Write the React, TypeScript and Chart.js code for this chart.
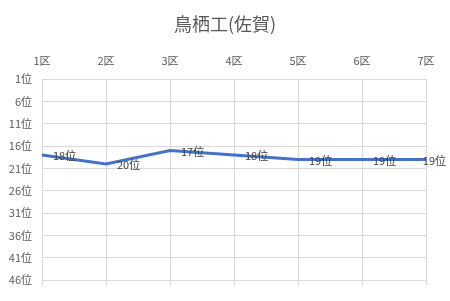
import React, { useEffect, useRef } from "react";
import { Chart, registerables } from "chart.js";

Chart.register(...registerables);

const titleText = "鳥栖工(佐賀)";
const categories = ["1区", "2区", "3区", "4区", "5区", "6区", "7区"];
const ranks = [18, 20, 17, 18, 19, 19, 19];
const rankTicks = [1, 6, 11, 16, 21, 26, 31, 36, 41, 46];

const FONT = "'Noto Sans CJK JP', 'Noto Sans', sans-serif";
const GRID = "#d9d9d9";

const titlePlugin = {
  id: "centeredTitle",
  afterDraw(chart: any) {
    const ctx = chart.ctx;
    ctx.save();
    ctx.font = `18px ${FONT}`;
    ctx.fillStyle = "#595959";
    ctx.textAlign = "center";
    ctx.textBaseline = "middle";
    ctx.fillText(titleText, chart.width / 2, 24);
    ctx.restore();
  },
};

const dataLabelPlugin = {
  id: "dataLabels",
  afterDatasetsDraw(chart: any) {
    const ctx = chart.ctx;
    const meta = chart.getDatasetMeta(0);
    ctx.save();
    ctx.font = `11px ${FONT}`;
    ctx.fillStyle = "#404040";
    ctx.textAlign = "left";
    ctx.textBaseline = "middle";
    meta.data.forEach((pt: any, i: number) => {
      const text = `${ranks[i]}位`;
      const w = ctx.measureText(text).width;
      const x = Math.min(pt.x + 11, chart.width - 4 - w);
      ctx.fillText(text, x, pt.y + 1);
    });
    ctx.restore();
  },
};

export default function App() {
  const ref = useRef<HTMLCanvasElement>(null);
  useEffect(() => {
    if (!ref.current) return;
    const chart = new Chart(ref.current, {
      type: "line",
      data: {
        labels: categories,
        datasets: [
          {
            data: ranks,
            borderColor: "#4472C4",
            borderWidth: 3,
            pointRadius: 0,
            tension: 0,
            xAxisID: "x",
          },
        ],
      },
      options: {
        responsive: false,
        animation: false,
        layout: { padding: { left: 0, right: 24, top: 39, bottom: 16 } },
        plugins: {
          legend: { display: false },
          tooltip: { enabled: false },
          title: { display: false },
        },
        scales: {
          x: {
            type: "category",
            position: "top",
            offset: false,
            grid: { color: GRID, drawTicks: false },
            border: { color: GRID },
            ticks: {
              color: "#595959",
              font: { family: FONT, size: 11 },
              padding: 12,
              maxRotation: 0,
            },
            afterFit(scale: any) {
              scale.height = 40;
            },
          },
          x2: {
            type: "category",
            position: "bottom",
            offset: false,
            labels: categories,
            grid: { color: GRID, drawOnChartArea: false, tickLength: 5 },
            border: { display: false },
            ticks: { display: false },
            afterFit(scale: any) {
              scale.height = 5;
            },
          },
          y: {
            type: "linear",
            reverse: true,
            min: 1,
            max: 46,
            grid: { color: GRID, drawTicks: false },
            border: { color: GRID },
            afterBuildTicks(scale: any) {
              scale.ticks = rankTicks.map((v) => ({ value: v }));
            },
            ticks: {
              color: "#595959",
              font: { family: FONT, size: 11 },
              padding: 10,
              callback: (v: any) => `${v}位`,
            },
            afterFit(scale: any) {
              scale.width = 42;
            },
          },
        },
      },
      plugins: [dataLabelPlugin, titlePlugin],
    });
    return () => chart.destroy();
  }, []);
  return (
    <div style={{ position: "fixed", left: 0, top: 0, width: 450, height: 301, background: "#fff" }}>
      <canvas ref={ref} width={450} height={301} style={{ display: "block" }} />
    </div>
  );
}
